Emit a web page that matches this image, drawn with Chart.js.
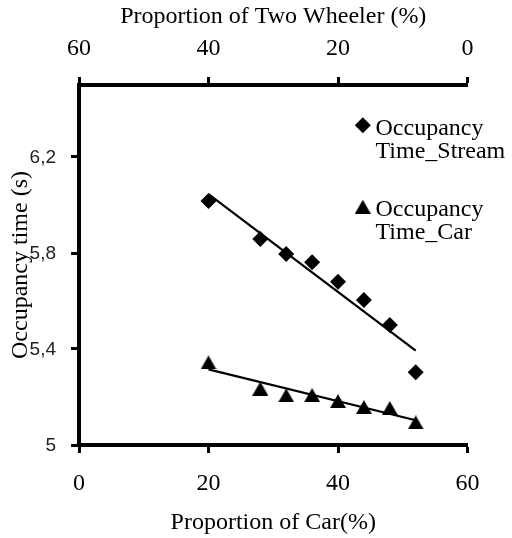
<!DOCTYPE html>
<html><head><meta charset="utf-8">
<script src="https://cdn.jsdelivr.net/npm/chart.js@4.4.1/dist/chart.umd.min.js"></script>
<style>html,body{margin:0;padding:0;background:#fff;}#wrap{position:relative;width:512px;height:538px;}</style>
</head><body><div id="wrap"><canvas id="c" width="512" height="538"></canvas></div>
<script>
// ---- data ----
const carShare   = [20, 28, 32, 36, 40, 44, 48, 52];
const streamTime = [6.017, 5.858, 5.796, 5.761, 5.680, 5.604, 5.500, 5.303];
const carTime    = [5.344, 5.235, 5.207, 5.208, 5.183, 5.158, 5.154, 5.094];
const streamTrendX = [20, 52];
const streamTrendY = [6.045, 5.393];
const carTrendX = [20, 52];
const carTrendY = [5.315, 5.103];
const seriesNames = ['Occupancy Time_Stream', 'Occupancy Time_Car'];
const xTicks  = [0, 20, 40, 60];
const x2Ticks = [0, 20, 40, 60];
const yTicks  = [5, 5.4, 5.8, 6.2];
const xTitle  = 'Proportion of Car(%)';
const x2Title = 'Proportion of Two Wheeler (%)';
const yTitle  = 'Occupancy time (s)';

const pts = (xs, ys) => xs.map((x, i) => ({x: x, y: ys[i]}));

function makeTriangle(w, h) {
  const c = document.createElement('canvas'); c.width = w; c.height = h;
  const g = c.getContext('2d'); g.fillStyle = '#000';
  g.beginPath(); g.moveTo(w / 2, 0); g.lineTo(w, h); g.lineTo(0, h); g.closePath(); g.fill();
  return c;
}
const tri = makeTriangle(16, 14);

const serif = 'Liberation Serif';
const fontBig = {family: serif, size: 24};

const legendPlugin = {
  id: 'customLegend',
  afterDraw(chart) {
    const ctx = chart.ctx;
    ctx.save();
    ctx.fillStyle = '#000';
    ctx.font = '24px "' + serif + '"';
    ctx.textAlign = 'left';
    ctx.textBaseline = 'alphabetic';
    const mx = 362.8, tx = 375.5;
    const rows = [125.3, 206.7];
    rows.forEach((my, i) => {
      if (i === 0) {
        ctx.beginPath();
        ctx.moveTo(mx - 8, my); ctx.lineTo(mx, my - 8); ctx.lineTo(mx + 8, my); ctx.lineTo(mx, my + 8);
        ctx.closePath(); ctx.fill();
      } else {
        ctx.drawImage(tri, mx - 8, my - 7);
      }
      const lines = seriesNames[i].split(' ');
      lines.forEach((t, k) => ctx.fillText(t, tx, my + 9.7 + k * 23));
    });
    ctx.restore();
  }
};

const gridOpts = {drawOnChartArea: false, drawTicks: true, tickLength: 8, tickWidth: 3, tickColor: '#000'};
const borderOpts = {display: true, color: '#000', width: 4};

new Chart(document.getElementById('c'), {
  type: 'scatter',
  data: {
    datasets: [
      {label: 'trend stream', data: pts(streamTrendX, streamTrendY), showLine: true, borderColor: '#000', borderWidth: 2.2, pointRadius: 0, fill: false},
      {label: 'trend car', data: pts(carTrendX, carTrendY), showLine: true, borderColor: '#000', borderWidth: 2.2, pointRadius: 0, fill: false},
      {label: seriesNames[0], data: pts(carShare, streamTime), pointStyle: 'rectRot', pointRadius: 8, backgroundColor: '#000', borderColor: '#000', borderWidth: 0},
      {label: seriesNames[1], data: pts(carShare, carTime), pointStyle: tri, pointRadius: 8, backgroundColor: '#000', borderColor: '#000', borderWidth: 0}
    ]
  },
  options: {
    responsive: false,
    devicePixelRatio: 1,
    animation: false,
    events: [],
    layout: {padding: {left: 0, top: 0, right: 44.5, bottom: 0}},
    plugins: {legend: {display: false}, tooltip: {enabled: false}},
    scales: {
      x: {
        type: 'linear', position: 'bottom', min: 0, max: 60,
        afterBuildTicks: s => { s.ticks = xTicks.map(v => ({value: v})); },
        afterFit: s => { s.height = 93; },
        grid: gridOpts, border: borderOpts,
        ticks: {color: '#000', font: fontBig, padding: 16, maxRotation: 0},
        title: {display: true, text: xTitle, color: '#000', font: fontBig, padding: {top: 0, bottom: 1}}
      },
      x2: {
        type: 'linear', axis: 'x', position: 'top', reverse: true, min: 0, max: 60,
        afterBuildTicks: s => { s.ticks = x2Ticks.map(v => ({value: v})); },
        afterFit: s => { s.height = 85; },
        grid: gridOpts, border: borderOpts,
        ticks: {color: '#000', font: fontBig, padding: 14, maxRotation: 0},
        title: {display: true, text: x2Title, color: '#000', font: fontBig, padding: {top: 2, bottom: 0}}
      },
      y: {
        type: 'linear', position: 'left', min: 5, max: 6.5,
        afterBuildTicks: s => { s.ticks = yTicks.map(v => ({value: v})); },
        afterFit: s => { s.width = 79; },
        grid: gridOpts, border: borderOpts,
        ticks: {color: '#222', font: {family: 'Liberation Sans', size: 19}, padding: 15, labelOffset: 1,
                callback: v => String(v).replace('.', ',')},
        title: {display: true, text: yTitle, color: '#000', font: fontBig, padding: {top: 6, bottom: 0}}
      }
    }
  },
  plugins: [legendPlugin]
});
</script></body></html>
